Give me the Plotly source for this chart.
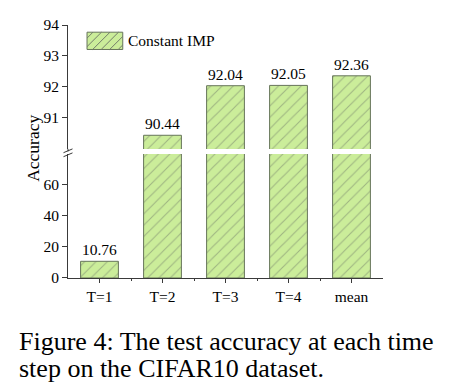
import plotly.graph_objects as go

# ---- data ----
categories = ["T=1", "T=2", "T=3", "T=4", "mean"]
accuracy = [10.76, 90.44, 92.04, 92.05, 92.36]
series_name = "Constant IMP"
top_ticks = [91, 92, 93, 94]
bottom_ticks = [0, 20, 40, 60]
top_range = [90, 94]
bottom_range = [0, 80]
caption_lines = ["Figure 4: The test accuracy at each time",
                 "step on the CIFAR10 dataset."]

# ---- geometry (pixels) ----
W, H = 451, 387
L, R, T, B = 68, 382.7, 24.5, 277.7
TOP_BOTTOM_PX = 148.5
BOT_TOP_PX = 153.5


def fx(px):
    return (px - L) / (R - L)


def fy(py):
    return (B - py) / (B - T)


FONT = "Liberation Serif"
FILL = "#cbed9a"
HATCH = "#737d6a"
EDGE = "#66745a"
AXIS = "#3a3a3a"

xs = list(range(len(categories)))
top_text = [f"{v:.2f}" if v >= top_range[0] else "" for v in accuracy]
bot_text = [f"{v:.2f}" if v <= bottom_range[1] else "" for v in accuracy]

bar_common = dict(
    x=xs, y=accuracy, width=0.6, textposition="outside", cliponaxis=False,
    textfont=dict(family=FONT, size=15.5, color="black"),
    marker=dict(color=FILL, line=dict(color=EDGE, width=1),
                pattern=dict(shape="/", fgcolor=HATCH, bgcolor=FILL, size=8, solidity=0.14)),
    showlegend=False, name=series_name,
)

fig = go.Figure()
fig.add_trace(go.Bar(text=bot_text, xaxis="x", yaxis="y", **bar_common))
fig.add_trace(go.Bar(text=top_text, xaxis="x2", yaxis="y2", **bar_common))

axis_font = dict(family=FONT, size=15.5, color="black")
fig.update_layout(
    width=W, height=H, autosize=False,
    margin=dict(l=L, r=W - R, t=T, b=H - B, pad=0),
    paper_bgcolor="white", plot_bgcolor="white",
    font=dict(family=FONT, color="black"),
    bargap=0.4,
    xaxis=dict(domain=[0, 1], range=[-0.5, len(categories) - 0.5], anchor="y",
               tickmode="array", tickvals=xs, ticktext=categories,
               ticks="outside", ticklen=4, tickcolor=AXIS, tickwidth=1,
               showline=True, linecolor=AXIS, linewidth=1, showgrid=False, zeroline=False,
               tickfont=axis_font,
               minor=dict(tickvals=[x + 0.5 for x in xs[:-1]], ticks="outside",
                          ticklen=2, tickcolor=AXIS, showgrid=False)),
    xaxis2=dict(domain=[0, 1], range=[-0.5, len(categories) - 0.5], anchor="y2",
                matches="x", visible=False),
    yaxis=dict(domain=[0, fy(BOT_TOP_PX)], range=bottom_range, anchor="x",
               tickmode="array", tickvals=bottom_ticks,
               ticks="outside", ticklen=5, tickcolor=AXIS, tickwidth=1,
               showline=True, linecolor=AXIS, linewidth=1, showgrid=False, zeroline=False,
               tickfont=axis_font),
    yaxis2=dict(domain=[fy(TOP_BOTTOM_PX), 1], range=top_range, anchor="x2",
                tickmode="array", tickvals=top_ticks,
                ticks="outside", ticklen=5, tickcolor=AXIS, tickwidth=1,
                showline=True, linecolor=AXIS, linewidth=1, showgrid=False, zeroline=False,
                tickfont=axis_font),
)

shapes = []
# break marks on the y axis
for y0 in (152.3, 156.3):
    shapes.append(dict(type="line", xref="paper", yref="paper",
                       x0=fx(63.5), y0=fy(y0), x1=fx(72.5), y1=fy(y0 - 3.8),
                       line=dict(color=AXIS, width=1)))
# extend top axis line to the break
shapes.append(dict(type="line", xref="paper", yref="paper",
                   x0=0, y0=fy(TOP_BOTTOM_PX), x1=0, y1=fy(151.0),
                   line=dict(color=AXIS, width=1)))

# legend swatch (drawn manually to match the wide box)
sx0, sx1, sy0, sy1 = 87.0, 122.7, 31.7, 49.0
shapes.append(dict(type="rect", xref="paper", yref="paper",
                   x0=fx(sx0), x1=fx(sx1), y0=fy(sy1), y1=fy(sy0),
                   fillcolor=FILL, line=dict(color=EDGE, width=1)))
step = 8.5
k = sx0 + sy0 + step * 0.7
while k < sx1 + sy1:
    pts = []
    for yy in (sy0, sy1):
        xx = k - yy
        if sx0 <= xx <= sx1:
            pts.append((xx, yy))
    for xx in (sx0, sx1):
        yy = k - xx
        if sy0 < yy < sy1:
            pts.append((xx, yy))
    if len(pts) >= 2:
        (ax, ay), (bx, by) = pts[0], pts[1]
        shapes.append(dict(type="line", xref="paper", yref="paper",
                           x0=fx(ax), y0=fy(ay), x1=fx(bx), y1=fy(by),
                           line=dict(color=HATCH, width=1)))
    k += step

annotations = [
    dict(text=series_name, xref="paper", yref="paper", x=fx(126), y=fy(40.5),
         xanchor="left", yanchor="middle", showarrow=False,
         font=dict(family=FONT, size=15.5, color="black")),
    dict(text="Accuracy", xref="paper", yref="paper", x=fx(33), y=fy(147.5),
         xanchor="center", yanchor="middle", textangle=-90, showarrow=False,
         font=dict(family=FONT, size=17.5, color="black")),
    dict(text=caption_lines[0], xref="paper", yref="paper", x=fx(17), y=fy(341.5),
         xanchor="left", yanchor="middle", showarrow=False,
         font=dict(family=FONT, size=26, color="black")),
    dict(text=caption_lines[1], xref="paper", yref="paper", x=fx(17), y=fy(368),
         xanchor="left", yanchor="middle", showarrow=False,
         font=dict(family=FONT, size=26, color="black")),
]

fig.update_layout(shapes=shapes, annotations=annotations)
fig.write_html("out.html",
               config={"displayModeBar": False},
               post_script="document.body.style.margin='0px';document.body.style.padding='0px';")
